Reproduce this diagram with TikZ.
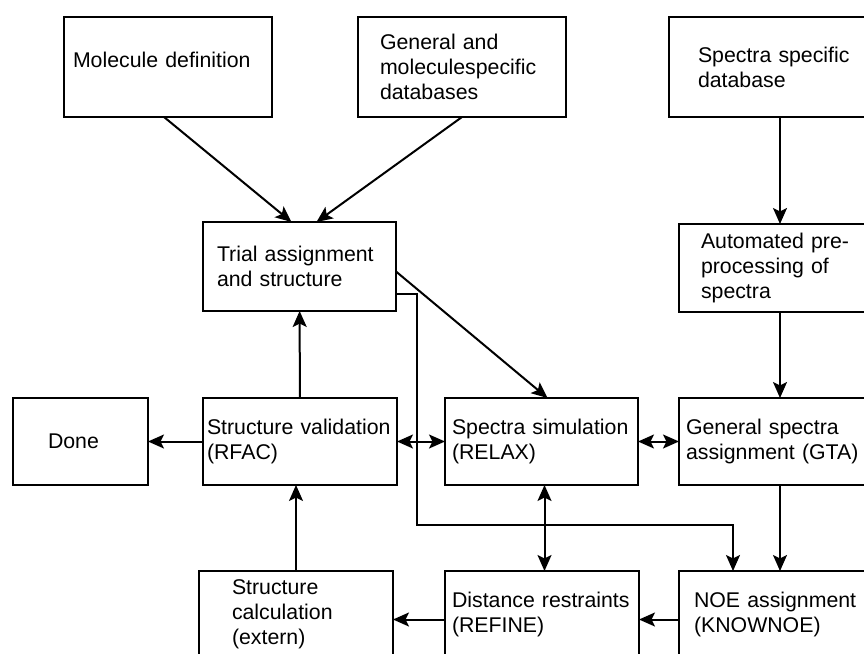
\documentclass[tikz,border=0pt]{standalone}
\usepackage{fontspec}
\setmainfont{Liberation Sans}
\usetikzlibrary{positioning,arrows.meta}

\begin{document}
\begin{tikzpicture}[
  x=1pt, y=-1pt,
  font=\fontsize{21.3}{25}\selectfont,
  box/.style={rectangle, draw=black, line width=2pt, inner sep=0pt, outer sep=0pt,
              align=left, minimum height=87pt},
  arr/.style={-{Stealth[length=16pt, width=14pt, inset=3.5pt]}, line width=2pt},
  darr/.style={{Stealth[length=16pt, width=14pt, inset=3.5pt]}-{Stealth[length=16pt, width=14pt, inset=3.5pt]}, line width=2pt},
]
  \useasboundingbox (0,0) rectangle (864,653);
  \clip (0,0) rectangle (864,653);

  % Inputs
  \node[box, minimum width=208pt, minimum height=100pt, text width=190pt] (mol) at (168,67) {\smash{Molecule definition}};
  \node[box, minimum width=208pt, minimum height=100pt, text width=164pt, right=86pt of mol] (gen) {General and\\moleculespecific\\databases};
  \node[box, minimum width=222pt, minimum height=100pt, text width=164pt, right=103pt of gen] (spec) {Spectra specific\\database};

  % Processing
  \node[box, minimum width=193pt, minimum height=89pt, text width=165pt] (trial) at (299.5,266.5) {Trial assignment\\and structure};
  \node[box, minimum width=202pt, minimum height=88pt, text width=158pt, below=107pt of spec] (auto) {Automated pre-\\processing of\\spectra};
  \node[box, minimum width=194pt, text width=186pt] (val) at (300,441.5) {Structure validation\\(RFAC)};
  \node[box, minimum width=135pt, text width=65pt, left=55pt of val] (done) {Done};
  \node[box, minimum width=193pt, text width=179pt, right=48pt of val] (relax) {Spectra simulation\\(RELAX)};
  \node[box, minimum width=202pt, text width=188pt, below=86pt of auto] (gta) {General spectra\\assignment (GTA)};

  % Bottom row
  \node[box, minimum width=202pt, text width=172pt, below=86pt of gta] (noe) {NOE assignment\\(KNOWNOE)};
  \node[box, minimum width=194pt, text width=128pt, below=86pt of val, xshift=-4pt] (calc) {Structure\\calculation\\(extern)};
  \node[box, minimum width=194pt, text width=180pt, right=52pt of calc] (dist) {Distance restraints\\(REFINE)};

  \coordinate (via) at (417,525);

  \draw[arr] ([xshift=-4pt]mol.south) -- ([xshift=-8pt]trial.north);
  \draw[arr] (gen.south) -- ([xshift=17pt]trial.north);
  \draw[arr] (spec) -- (auto);
  \draw[arr] (auto) -- (gta);
  \draw[arr] (gta) -- (noe);
  \draw[arr] ([yshift=-5pt]trial.east) -- ([xshift=6pt]relax.north);
  \draw[arr] ([yshift=-27pt]trial.east) -| (via) -| ([xshift=-47pt]noe.north);
  \draw[arr] (val) -- (trial);
  \draw[arr] (val) -- (done);
  \draw[darr] (val) -- (relax);
  \draw[darr] (relax) -- (gta);
  \draw[darr] ([xshift=3pt]relax.south) -- ([xshift=3pt]relax.south |- dist.north);
  \draw[arr] ([yshift=-5pt]noe.west) -- ([yshift=-5pt]dist.east);
  \draw[arr] ([yshift=-5pt]dist.west) -- ([yshift=-5pt]calc.east);
  \draw[arr] (calc.north) -- (calc.north |- val.south);
\end{tikzpicture}
\end{document}
